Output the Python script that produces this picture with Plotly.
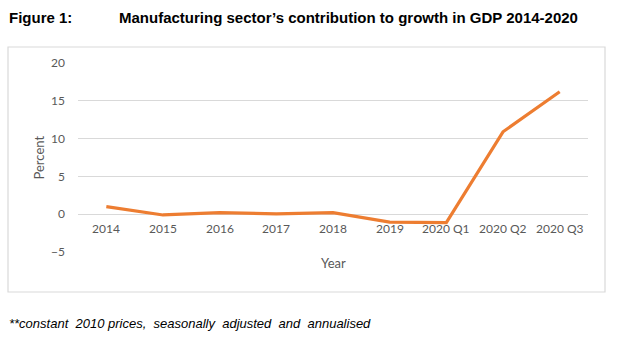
import plotly.graph_objects as go

categories = ["2014", "2015", "2016", "2017", "2018", "2019", "2020 Q1", "2020 Q2", "2020 Q3"]
values = [1.0, -0.1, 0.2, 0.05, 0.2, -1.05, -1.1, 10.9, 16.2]
y_ticks = [-5, 0, 5, 10, 15, 20]

title_left = "Figure 1:"
title_main = "Manufacturing sector’s contribution to growth in GDP 2014-2020"
footnote = "**constant  2010 prices,  seasonally  adjusted  and  annualised"

tick_font = dict(family="Lato, Carlito, Calibri, sans-serif", size=12, color="#595959")

L, R, T, B = 78, 32, 63, 87
W, H = 620, 339
pw, ph = W - L - R, H - T - B
def px(x):
    return (x - L) / pw
def py(y):
    return (H - B - y) / ph

fig = go.Figure()
fig.add_trace(go.Scatter(
    x=categories, y=values, mode="lines",
    line=dict(color="#ED7D31", width=3.2),
    hoverinfo="skip",
))

ann = []
for i, c in enumerate(categories):
    ann.append(dict(x=i, y=0, xref="x", yref="y", text=c, showarrow=False,
                    yanchor="top", yshift=-5, font=tick_font))
ann.append(dict(x=0.5, y=py(263), xref="paper", yref="paper", text="Year", showarrow=False,
                font=dict(family="Lato, sans-serif", size=13, color="#595959"),
                xanchor="center", yanchor="middle"))
ann.append(dict(x=px(38), y=0.5, xref="paper", yref="paper", text="Percent", showarrow=False,
                textangle=-90,
                font=dict(family="Lato, sans-serif", size=13, color="#595959"),
                xanchor="center", yanchor="middle"))
title_font = dict(family="Liberation Sans Narrow, Arial Narrow, Liberation Sans, Arial", size=15, color="#000")
ann.append(dict(x=px(7), y=py(18), xref="paper", yref="paper", text="<b>" + title_left + "</b>",
                showarrow=False, xanchor="left", yanchor="middle", font=title_font))
ann.append(dict(x=px(117), y=py(18), xref="paper", yref="paper", text="<b>" + title_main + "</b>",
                showarrow=False, xanchor="left", yanchor="middle", font=title_font))
ann.append(dict(x=px(7), y=py(323), xref="paper", yref="paper", text="<i>" + footnote + "</i>",
                showarrow=False, xanchor="left", yanchor="middle",
                font=dict(family="Liberation Sans, Arial", size=13, color="#000")))

fig.update_layout(
    width=W, height=H,
    margin=dict(l=L, r=R, t=T, b=B),
    paper_bgcolor="white", plot_bgcolor="white",
    showlegend=False,
    annotations=ann,
    xaxis=dict(type="category", showticklabels=False, showgrid=False, zeroline=False, showline=False,
               range=[-0.5, len(categories) - 0.5], fixedrange=True),
    yaxis=dict(range=[-5, 20], tickvals=y_ticks, showgrid=True, gridcolor="#d9d9d9", gridwidth=1,
               zeroline=True, zerolinecolor="#d9d9d9", zerolinewidth=1, showline=False,
               tickfont=tick_font, ticklabelstandoff=12, fixedrange=True),
    shapes=[dict(type="rect", xref="paper", yref="paper",
                 x0=px(8), x1=px(605), y0=py(292), y1=py(47),
                 line=dict(color="#d9d9d9", width=1.2), layer="below")],
)

fig.write_html("out.html", config={"displayModeBar": False},
               post_script="document.body.style.margin='0';")
